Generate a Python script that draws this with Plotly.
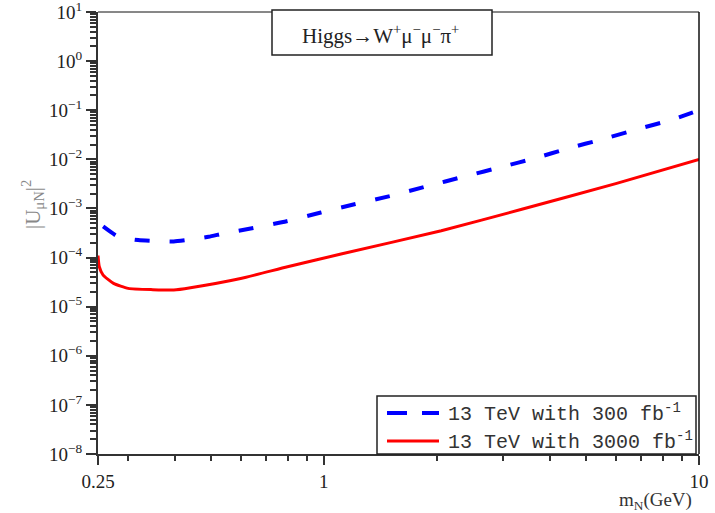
import plotly.graph_objects as go

# ---- data ----
mass_300 = [0.258, 0.283, 0.32, 0.351, 0.398, 0.436, 0.493, 0.541, 0.638, 0.796,
            0.982, 1.214, 1.5, 1.85, 2.4, 2.98, 3.65, 4.49, 5.51, 6.84, 8.4, 10.0]
u2_300 = [4.3e-4, 2.65e-4, 2.27e-4, 2.17e-4, 2.12e-4, 2.3e-4, 2.65e-4, 3.1e-4, 3.9e-4, 5.5e-4,
          8.25e-4, 1.23e-3, 1.79e-3, 2.73e-3, 4.6e-3, 7.0e-3, 1.05e-2, 1.68e-2, 2.55e-2, 4.1e-2, 6.3e-2, 0.1]

mass_3000 = [0.25, 0.252, 0.258, 0.275, 0.301, 0.35, 0.398, 0.441, 0.6, 0.8,
             1.111, 2.056, 3.37, 6.0, 10.0]
u2_3000 = [1.1e-4, 6.5e-5, 4.4e-5, 2.98e-5, 2.36e-5, 2.22e-5, 2.18e-5, 2.43e-5, 3.75e-5, 6.5e-5,
           1.18e-4, 3.52e-4, 9.6e-4, 3.2e-3, 1.0e-2]

x_tickvals = [0.25, 1, 10]
x_ticktext = ["0.25", "1", "10"]
x_minor = [0.3, 0.4, 0.5, 0.6, 0.7, 0.8, 0.9, 2, 3, 4, 5, 6, 7, 8, 9]

y_exponents = list(range(-8, 2))
y_tickvals = [10.0 ** e for e in y_exponents]
y_ticktext = ["10<sup>" + (("\u2212" + str(-e)) if e < 0 else str(e)) + "</sup>" for e in y_exponents]
y_minor = [k * 10.0 ** e for e in range(-8, 1) for k in range(2, 10)]

label_300 = "13 TeV with 300 fb<sup>-1</sup>"
label_3000 = "13 TeV with 3000 fb<sup>-1</sup>"
title_text = "Higgs\u2192W<sup>+</sup>\u03bc<sup>\u2212</sup>\u03bc<sup>\u2212</sup>\u03c0<sup>+</sup>"

serif = "Liberation Serif, DejaVu Serif, serif"
mono = "Liberation Mono, DejaVu Sans Mono, monospace"
axis_col = "#333333"
blue_line = dict(color="#0000ff", width=4, dash="15px,20px")
red_line = dict(color="#ff0000", width=3)

fig = go.Figure()
fig.add_trace(go.Scatter(x=mass_300, y=u2_300, mode="lines", name="13 TeV with 300 fb-1",
                         line=dict(shape="spline", smoothing=0.5, **blue_line), showlegend=False))
fig.add_trace(go.Scatter(x=mass_3000, y=u2_3000, mode="lines", name="13 TeV with 3000 fb-1",
                         line=dict(shape="spline", smoothing=0.5, **red_line), showlegend=False))

W, H = 715, 513
L, R, T, B = 98, 16, 12, 59
pw, ph = W - L - R, H - T - B

def px(xp):
    return (xp - L) / pw

def py(yp):
    return (H - B - yp) / ph

fig.update_layout(
    width=W, height=H, margin=dict(l=L, r=R, t=T, b=B, autoexpand=False),
    paper_bgcolor="white", plot_bgcolor="white",
    showlegend=False,
)

fig.update_xaxes(type="log", range=[-0.60206, 1.0], showgrid=False, zeroline=False,
                 automargin=False,
                 showline=True, linecolor=axis_col, linewidth=2,
                 tickmode="array", tickvals=x_tickvals, ticktext=x_ticktext,
                 ticks="outside", ticklen=9, tickwidth=2, tickcolor=axis_col,
                 ticklabeloverflow="allow",
                 tickfont=dict(family=serif, size=19, color="#222222"),
                 minor=dict(tickmode="array", tickvals=x_minor, ticks="outside",
                            ticklen=5, tickwidth=1.5, tickcolor=axis_col, showgrid=False))
fig.update_yaxes(type="log", range=[-8, 1], showgrid=False, zeroline=False,
                 automargin=False,
                 showline=True, linecolor=axis_col, linewidth=2,
                 tickmode="array", tickvals=y_tickvals, ticktext=y_ticktext,
                 ticks="outside", ticklen=10, tickwidth=2, tickcolor=axis_col,
                 ticklabeloverflow="allow",
                 tickfont=dict(family=serif, size=19, color="#222222"),
                 minor=dict(tickmode="array", tickvals=y_minor, ticks="outside",
                            ticklen=6, tickwidth=1.5, tickcolor=axis_col, showgrid=False))

# top and right frame lines
fig.add_shape(type="line", xref="paper", yref="paper", x0=0, x1=1, y0=1, y1=1,
              line=dict(color="#111111", width=1))
fig.add_shape(type="line", xref="paper", yref="paper", x0=1, x1=1, y0=0, y1=1,
              line=dict(color="#111111", width=1.5))

# title box
fig.add_shape(type="rect", xref="paper", yref="paper",
              x0=px(272), x1=px(492), y0=py(55), y1=py(10),
              line=dict(color="#222222", width=1.5), fillcolor="white", layer="above")
fig.add_annotation(xref="paper", yref="paper", x=px(380), y=py(34), text=title_text,
                   showarrow=False, xanchor="center", yanchor="middle",
                   font=dict(family=serif, size=21, color="#222222"))

# legend (drawn as box + sample lines + texts)
fig.add_shape(type="rect", xref="paper", yref="paper",
              x0=px(377), x1=px(696), y0=py(454), y1=py(396),
              line=dict(color="#222222", width=1.5), fillcolor="white", layer="above")
for yy, ln, lab in [(413, blue_line, label_300), (441, red_line, label_3000)]:
    fig.add_shape(type="line", xref="paper", yref="paper",
                  x0=px(387), x1=px(439), y0=py(yy), y1=py(yy),
                  line=dict(color=ln["color"], width=ln["width"],
                            dash="20px,15px" if "dash" in ln else "solid"),
                  layer="above")
    fig.add_annotation(xref="paper", yref="paper", x=px(446), y=py(yy), text=lab,
                       showarrow=False, xanchor="left", yanchor="middle",
                       font=dict(family=mono, size=20, color="#333333"))

# axis titles
fig.add_annotation(xref="paper", yref="paper", x=px(32), y=py(205),
                   text="|U<sub>\u03bcN</sub>|<sup>2</sup>", textangle=-90,
                   showarrow=False, xanchor="center", yanchor="middle",
                   font=dict(family=serif, size=21, color="#888888"))
fig.add_annotation(xref="paper", yref="paper", x=px(694), y=py(501),
                   text="m<sub>N</sub>(GeV)", showarrow=False,
                   xanchor="right", yanchor="middle",
                   font=dict(family=serif, size=19, color="#333333"))

fig.write_html("out.html")
